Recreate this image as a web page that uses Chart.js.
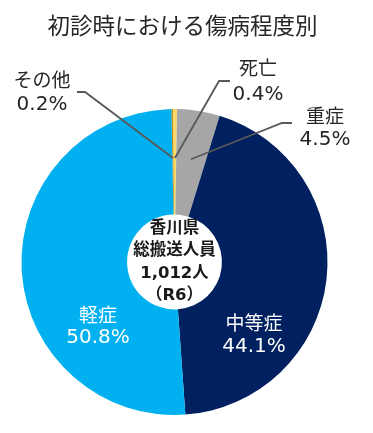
<!DOCTYPE html>
<html>
<head>
<meta charset="utf-8">
<script src="https://cdn.jsdelivr.net/npm/chart.js@4.4.1/dist/chart.umd.min.js"></script>
<style>
  html, body { margin: 0; padding: 0; background: #fff; }
  #wrap { width: 373px; height: 433px; }
</style>
</head>
<body>
<div id="wrap"><canvas id="pieChart" width="373" height="433"></canvas></div>
<script>
// カテゴリ（時計回り、上から）
const categories = ['その他', '死亡', '重症', '中等症', '軽症'];
// 割合（%）
const percents = [0.2, 0.4, 4.5, 44.1, 50.8];
// 中央の文字
const centerLines = ['香川県', '総搬送人員', '1,012人', '（R6）'];
const titleText = '初診時における傷病程度別';

const colors = ['#B8901A', '#FFD966', '#A6A6A6', '#002060', '#00B0F0'];

// ラベルの位置（レイアウト用）
const labelLayout = [
    { x: 42, y1: 80, y2: 105, color: '#262626', leader: [[77, 92], [85, 92]] },
    { x: 258, y1: 68, y2: 95, color: '#262626', leader: [[230, 81], [219, 81]] },
    { x: 325, y1: 116, y2: 140, color: '#262626', leader: [[292, 123], [282, 123]] },
    { x: 254, y1: 323, y2: 347, color: '#ffffff' },
    { x: 98, y1: 315, y2: 338, color: '#ffffff' }
];

const cjkFont = '"Noto Sans CJK JP", sans-serif';
const numFont = '"DejaVu Sans", "Noto Sans CJK JP", sans-serif';

// タイトル・ラベル・引き出し線を描くプラグイン
const labelPlugin = {
    id: 'labelPlugin',
    afterDatasetsDraw(chart) {
        const ctx = chart.ctx;
        const arcs = chart.getDatasetMeta(0).data;
        ctx.save();
        ctx.textAlign = 'center';
        ctx.textBaseline = 'middle';

        // タイトル
        ctx.fillStyle = '#262626';
        ctx.font = '22.5px ' + cjkFont;
        ctx.fillText(titleText, 182.5, 25);

        arcs.forEach((arc, i) => {
            const lay = labelLayout[i];
            if (lay.leader) {
                const mid = (arc.startAngle + arc.endAngle) / 2;
                const r = arc.outerRadius * 0.68;
                const ax = arc.x + Math.cos(mid) * r;
                const ay = arc.y + Math.sin(mid) * r;
                ctx.strokeStyle = '#595959';
                ctx.lineWidth = 1.8;
                ctx.beginPath();
                ctx.moveTo(lay.leader[0][0], lay.leader[0][1]);
                ctx.lineTo(lay.leader[1][0], lay.leader[1][1]);
                ctx.lineTo(ax, ay);
                ctx.stroke();
            }
            ctx.fillStyle = lay.color;
            ctx.font = '19px ' + cjkFont;
            ctx.fillText(categories[i], lay.x, lay.y1);
            ctx.font = '20px ' + numFont;
            ctx.fillText(percents[i].toFixed(1) + '%', lay.x, lay.y2);
        });

        // 中央の文字
        const a = arcs[0];
        ctx.fillStyle = '#1a1a1a';
        ctx.font = 'bold 16.5px ' + numFont;
        const lh = 22.5;
        const top = a.y - lh * (centerLines.length - 1) / 2;
        centerLines.forEach((t, k) => {
            ctx.fillText(t, a.x, top + k * lh);
        });
        ctx.restore();
    }
};

const ctx = document.getElementById('pieChart');
const pieChart = new Chart(ctx, {
    type: 'doughnut',
    data: {
        labels: categories,
        datasets: [{
            data: percents,
            backgroundColor: colors,
            borderWidth: 0
        }]
    },
    options: {
        responsive: false,
        animation: false,
        cutout: '31%',
        rotation: -1.2,
        layout: { padding: { left: 21, right: 45, top: 109, bottom: 18 } },
        plugins: {
            legend: { display: false },
            tooltip: { enabled: false },
            title: { display: false }
        }
    },
    plugins: [labelPlugin]
});
</script>
</body>
</html>
